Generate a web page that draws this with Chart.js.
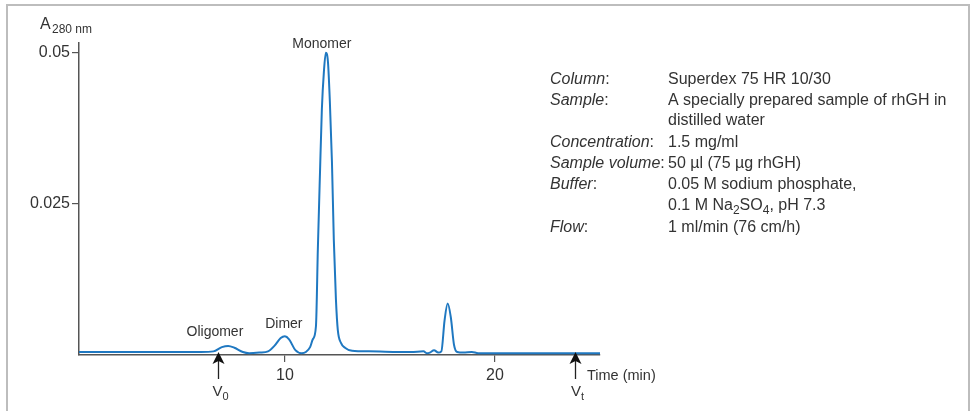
<!DOCTYPE html>
<html>
<head>
<meta charset="utf-8">
<script src="https://cdn.jsdelivr.net/npm/chart.js@4.4.1/dist/chart.umd.min.js"></script>
<style>
  html, body { margin: 0; padding: 0; background: #fff; }
  #chart { display: block; }
</style>
</head>
<body>
<canvas id="chart" width="975" height="411"></canvas>
<script>
// chromatogram (time in min, absorbance at 280 nm)
const times = [0.2, 2, 4, 6, 6.6, 7.0, 7.3, 7.6, 8.0, 8.3, 8.8, 9.2, 9.5, 9.8, 10.0, 10.2, 10.5, 10.8, 11.0,
  11.2, 11.33, 11.48, 11.57, 11.67, 11.76, 11.86, 11.95, 12.05, 12.14, 12.24, 12.33, 12.43, 12.52, 12.67, 12.86,
  13.2, 14, 16, 16.6, 16.75, 16.9, 17.1, 17.3, 17.45, 17.6, 17.75, 17.9, 18.05, 18.2, 18.5, 18.9, 19.2, 20, 22, 25];
const absorbance = [0.0005, 0.0005, 0.0005, 0.0005, 0.0006, 0.0013, 0.0015, 0.0012, 0.0005, 0.0003, 0.0004, 0.0006, 0.0015, 0.0028, 0.0031, 0.0026, 0.0008, 0.0003, 0.0005,
  0.0013, 0.0026, 0.0048, 0.0176, 0.030, 0.0406, 0.047, 0.050, 0.0485, 0.042, 0.032, 0.019, 0.0092, 0.0041, 0.0020, 0.0012,
  0.0007, 0.0006, 0.0005, 0.0006, 0.0003, 0.0004, 0.0008, 0.0004, 0.0006, 0.0057, 0.0085, 0.0062, 0.0017, 0.0005, 0.0004, 0.0005, 0.0003, 0.0003, 0.0003, 0.0003];

const xTicks = [10, 20];
const yTicks = [0.025, 0.05];

// peak names and where they sit (data units)
const peakNames = ['Oligomer', 'Dimer', 'Monomer'];
const peakLabelX = [6.67, 9.95, 11.76];
const peakLabelY = [0.0038, 0.0051, 0.0514];

// V0 / Vt arrows
const markerNames = ['V_0', 'V_t'];
const markerTimes = [6.8, 23.8];

// run conditions
const infoLabels = ['Column', 'Sample', '', 'Concentration', 'Sample volume', 'Buffer', '', 'Flow'];
const infoValues = ['Superdex 75 HR 10/30', 'A specially prepared sample of rhGH in', 'distilled water',
  '1.5 mg/ml', '50 µl (75 µg rhGH)', '0.05 M sodium phosphate,', '0.1 M Na_2SO_4, pH 7.3', '1 ml/min (76 cm/h)'];

const FONT = '"Liberation Sans", Arial, sans-serif';
const TEXT = '#333';

// draws text where "_x" means subscript x
function drawRich(ctx, str, x, y, size, align) {
    const parts = str.split(/_(\w)/);
    const pieces = parts.map((p, i) => ({ t: p, sub: i % 2 === 1 }));
    let total = 0;
    pieces.forEach(p => {
        ctx.font = (p.sub ? Math.round(size * 0.72) : size) + 'px ' + FONT;
        p.w = ctx.measureText(p.t).width;
        total += p.w;
    });
    let cx = align === 'center' ? x - total / 2 : x;
    ctx.textAlign = 'left';
    ctx.textBaseline = 'middle';
    pieces.forEach(p => {
        ctx.font = (p.sub ? Math.round(size * 0.72) : size) + 'px ' + FONT;
        ctx.fillText(p.t, cx, p.sub ? y + size * 0.3 : y);
        cx += p.w;
    });
}

const extras = {
    id: 'extras',
    beforeDraw(chart) {
        const ctx = chart.ctx;
        ctx.save();
        ctx.fillStyle = '#fff';
        ctx.fillRect(0, 0, chart.width, chart.height);
        // frame
        ctx.strokeStyle = '#bdbdbd';
        ctx.lineWidth = 2;
        ctx.beginPath();
        ctx.moveTo(7, 411);
        ctx.lineTo(7, 5);
        ctx.lineTo(969, 5);
        ctx.lineTo(969, 411);
        ctx.stroke();
        ctx.restore();
    },
    afterDraw(chart) {
        const ctx = chart.ctx;
        const xs = chart.scales.x, ys = chart.scales.y;
        ctx.save();
        ctx.fillStyle = TEXT;

        // y title
        ctx.font = '16px ' + FONT;
        ctx.textBaseline = 'middle';
        ctx.textAlign = 'left';
        ctx.fillText('A', 40, 25);
        ctx.font = '12px ' + FONT;
        ctx.fillText('280 nm', 52, 30);

        // x title
        ctx.font = '14.5px ' + FONT;
        ctx.fillText('Time (min)', 587, 376);

        // peak names
        peakNames.forEach((n, i) => {
            drawRich(ctx, n, xs.getPixelForValue(peakLabelX[i]), ys.getPixelForValue(peakLabelY[i]), 14, 'center');
        });

        // V0 / Vt arrows
        markerTimes.forEach((t, i) => {
            const px = Math.round(xs.getPixelForValue(t)) + 0.5;
            const tip = ys.bottom - 3;
            ctx.strokeStyle = '#222';
            ctx.lineWidth = 1.3;
            ctx.beginPath();
            ctx.moveTo(px, tip + 8);
            ctx.lineTo(px, tip + 27);
            ctx.stroke();
            ctx.fillStyle = '#111';
            ctx.beginPath();
            ctx.moveTo(px, tip);
            ctx.lineTo(px + 6, tip + 12);
            ctx.lineTo(px, tip + 9);
            ctx.lineTo(px - 6, tip + 12);
            ctx.closePath();
            ctx.fill();
            ctx.fillStyle = TEXT;
            drawRich(ctx, markerNames[i], px + 2, 392, 15, 'center');
        });

        // run conditions
        infoLabels.forEach((lab, i) => {
            const y = [80, 101, 121, 143, 164, 185, 206, 228][i];
            if (lab) {
                ctx.font = 'italic 16px ' + FONT;
                ctx.textAlign = 'left';
                ctx.textBaseline = 'middle';
                ctx.fillText(lab, 550, y);
                const w = ctx.measureText(lab).width;
                ctx.font = '16px ' + FONT;
                ctx.fillText(':', 550 + w, y);
            }
            drawRich(ctx, infoValues[i], 668, y, 16, 'left');
        });
        ctx.restore();
    }
};

const axisStyle = {
    border: { display: true, color: '#555', width: 1.5 },
    grid: { display: true, drawOnChartArea: false, drawTicks: true, tickLength: 7, color: '#555', lineWidth: 1.2 },
};

new Chart(document.getElementById('chart'), {
    type: 'line',
    data: {
        datasets: [{
            data: times.map((t, i) => ({ x: t, y: absorbance[i] })),
            borderColor: '#1f78c1',
            borderWidth: 2,
            pointRadius: 0,
            fill: false,
            cubicInterpolationMode: 'monotone',
        }]
    },
    options: {
        responsive: false,
        animation: false,
        layout: { padding: { left: 0, top: 43, right: 375, bottom: 0 } },
        plugins: { legend: { display: false }, tooltip: { enabled: false } },
        scales: {
            x: {
                type: 'linear',
                min: 0.2,
                max: 25,
                ...axisStyle,
                afterBuildTicks: s => { s.ticks = xTicks.map(v => ({ value: v })); },
                afterFit: s => { s.height = 56; },
                ticks: { color: TEXT, font: { family: FONT, size: 16 }, padding: 4, maxRotation: 0,
                    callback: v => String(v) },
            },
            y: {
                min: 0,
                max: 0.0516,
                ...axisStyle,
                afterBuildTicks: s => { s.ticks = yTicks.map(v => ({ value: v })); },
                afterFit: s => { s.width = 79; },
                ticks: { color: TEXT, font: { family: FONT, size: 16 }, padding: 2,
                    callback: v => String(v) },
            }
        }
    },
    plugins: [extras]
});
</script>
</body>
</html>
